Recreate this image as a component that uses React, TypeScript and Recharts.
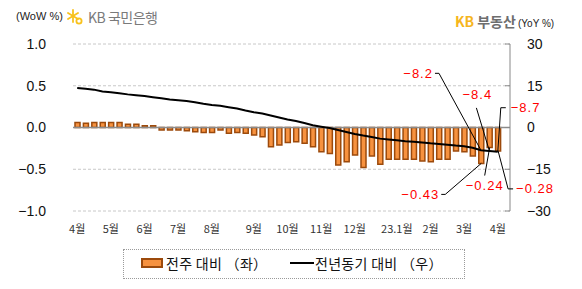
import React from 'react';
import {
  ComposedChart,
  Bar,
  Line,
  XAxis,
  YAxis,
  CartesianGrid,
  ReferenceLine,
  LabelList,
} from 'recharts';

// Weekly apartment sale price change, Apr 2022 – Apr 2023
const weekIds: number[] = Array.from({ length: 51 }, (_, i) => i);

// Week-over-week change (%), left axis
const wowChange: number[] = [
  0.06, 0.05, 0.06, 0.06, 0.06, 0.06, 0.04, 0.04, 0.02, 0.02,
  -0.03, -0.03, -0.03, -0.04, -0.05, -0.06, -0.06, -0.03, -0.07, -0.06,
  -0.07, -0.09, -0.11, -0.23, -0.21, -0.18, -0.17, -0.19, -0.23, -0.29,
  -0.31, -0.45, -0.41, -0.33, -0.48, -0.34, -0.44, -0.38, -0.38, -0.38,
  -0.38, -0.4, -0.41, -0.38, -0.38, -0.28, -0.29, -0.34, -0.43, -0.24,
  -0.28,
];

// Year-over-year change (%), right axis
const yoyChange: number[] = [
  14.2, 13.9, 13.6, 12.9, 12.7, 12.3, 11.9, 11.6, 11.3, 10.9,
  10.5, 10.1, 9.8, 9.5, 9.1, 8.5, 8.1, 7.8, 7.3, 6.8,
  6.1, 5.5, 5.0, 4.3, 3.6, 2.9, 2.3, 1.6, 0.8, 0.3,
  -0.2, -0.9, -1.6, -2.3, -2.9, -3.4, -4.0, -4.3, -4.6, -4.9,
  -5.1, -5.4, -5.7, -5.9, -6.2, -6.5, -6.7, -7.3, -8.2, -8.4,
  -8.7,
];

// Month labels and the week they sit under
const monthTickWeeks: number[] = [0, 4, 8, 12, 16, 21, 25, 29, 33, 38, 42, 46, 50];
const monthTickLabels: string[] = [
  '4월', '5월', '6월', '7월', '8월', '9월', '10월', '11월', '12월', '23.1월', '2월', '3월', '4월',
];

const leftTicks: number[] = [1, 0.5, 0, -0.5, -1];
const rightTicks: number[] = [30, 15, 0, -15, -30];

const data = weekIds.map((w, i) => ({
  week: w,
  wow: wowChange[i],
  yoy: yoyChange[i],
}));

const FONT = '"Liberation Sans", Arial, "Noto Sans CJK KR", sans-serif';
const KFONT = '"Noto Sans CJK KR", "Liberation Sans", sans-serif';
const RED = '#ff0000';

const minus = (s: string) => s.replace('-', '\u2212');

// Callout geometry for the latest three weeks (leader elbow, end, text anchor)
type Callout = { pts: [number, number][]; tx: number; ty: number; anchor: 'start' | 'middle' | 'end' };
const lineCallouts: Record<number, Callout> = {
  48: { pts: [[-42, -77], [-46, -77]], tx: -48, ty: -77, anchor: 'end' },
  49: { pts: [[-13, -43]], tx: -12, ty: -56, anchor: 'middle' },
  50: { pts: [[3, -44], [8, -44]], tx: 13, ty: -44, anchor: 'start' },
};
const barCallouts: Record<number, Callout> = {
  48: { pts: [[-36, 31], [-40, 31]], tx: -42, ty: 31, anchor: 'end' },
  49: { pts: [[-5, 28]], tx: -5, ty: 38, anchor: 'middle' },
  50: { pts: [[10, 38], [15, 38]], tx: 18, ty: 38, anchor: 'start' },
};

const renderCallout = (c: Callout, px: number, py: number, text: string) => {
  const pts = [[px, py], ...c.pts.map(([dx, dy]) => [px + dx, py + dy])];
  return (
    <g>
      <polyline
        points={pts.map((p) => p.join(',')).join(' ')}
        fill="none"
        stroke="#000"
        strokeWidth={1}
      />
      <text
        x={px + c.tx}
        y={py + c.ty}
        dy="0.35em"
        textAnchor={c.anchor}
        fill={RED}
        fontSize={13}
        letterSpacing={1}
        fontFamily={FONT}
      >
        {text}
      </text>
    </g>
  );
};

const LineLabel = (props: any) => {
  const { x, y, value, index } = props;
  const c = lineCallouts[index];
  if (!c) return null;
  return renderCallout(c, x, y, minus(Number(value).toFixed(1)));
};

const BarLabel = (props: any) => {
  const { x, y, width, height, value, index } = props;
  const c = barCallouts[index];
  if (!c) return null;
  const bottom = Math.max(y, y + height);
  return renderCallout(c, x + width / 2, bottom, minus(Number(value).toFixed(2)));
};

const LeftTick = (props: any) => {
  const { x, y, payload } = props;
  return (
    <text x={x} y={y} dy="0.35em" textAnchor="end" fontSize={14} fill="#111" fontFamily={FONT}>
      {minus(Number(payload.value).toFixed(1))}
    </text>
  );
};

const RIGHT_MARGIN = 17;
const RightTick = (props: any) => {
  const { x, y, payload } = props;
  const ax = x - RIGHT_MARGIN;
  return (
    <g>
      <line x1={ax - 5} x2={ax} y1={y} y2={y} stroke="#888" strokeWidth={1} />
      <text x={x} y={y} dy="0.35em" textAnchor="start" fontSize={14} fill="#111" fontFamily={FONT}>
        {minus(String(payload.value))}
      </text>
    </g>
  );
};

const MonthTick = (props: any) => {
  const { x, y, payload } = props;
  const k = monthTickWeeks.indexOf(payload.value);
  return (
    <text x={x} y={y} dy="0.71em" textAnchor="middle" fontSize={11} fill="#333" fontFamily={KFONT}>
      {k >= 0 ? monthTickLabels[k] : ''}
    </text>
  );
};

const KbStar = () => (
  <svg width={16} height={16} viewBox="0 0 16 16" style={{ position: 'absolute', left: 67, top: 9 }}>
    <g stroke="#f8c21d" strokeWidth={1.8} strokeLinecap="round" fill="none">
      <line x1={6} y1={1} x2={6} y2={13} />
      <line x1={1} y1={4} x2={11} y2={10} />
      <line x1={1} y1={10} x2={11} y2={4} />
      <circle cx={12} cy={12} r={2.6} />
    </g>
  </svg>
);

export default function App() {
  return (
    <div
      style={{
        position: 'absolute',
        left: 0,
        top: 0,
        width: 582,
        height: 289,
        background: '#fff',
        fontFamily: FONT,
      }}
    >
      <ComposedChart
        width={582}
        height={289}
        data={data}
        margin={{ top: 44, right: 0, bottom: 48, left: 0 }}
        barCategoryGap={0}
      >
        <CartesianGrid
          yAxisId="left"
          vertical={false}
          stroke="#c8c8c8"
          strokeDasharray="3 2"
        />
        <XAxis
          dataKey="week"
          type="category"
          ticks={monthTickWeeks}
          interval={0}
          axisLine={false}
          tickLine={false}
          tickSize={0}
          tickMargin={14}
          height={30}
          padding={{ left: 0, right: 8 }}
          tick={<MonthTick />}
        />
        <YAxis
          yAxisId="left"
          orientation="left"
          domain={[-1, 1]}
          ticks={leftTicks}
          width={73}
          axisLine={false}
          tickLine={false}
          tickSize={0}
          tickMargin={27}
          tick={<LeftTick />}
        />
        <YAxis
          yAxisId="right"
          orientation="right"
          domain={[-30, 30]}
          ticks={rightTicks}
          width={72}
          axisLine={{ stroke: '#888', strokeWidth: 1 }}
          tickLine={false}
          tickSize={0}
          tickMargin={RIGHT_MARGIN}
          tick={<RightTick />}
        />
        <ReferenceLine yAxisId="left" y={0} stroke="#8c8c8c" strokeWidth={1.5} />
        <Bar
          yAxisId="left"
          dataKey="wow"
          barSize={5}
          fill="#f7923f"
          stroke="#9c4a0c"
          strokeWidth={1.5}
          isAnimationActive={false}
        >
          <LabelList dataKey="wow" content={<BarLabel />} />
        </Bar>
        <Line
          yAxisId="right"
          dataKey="yoy"
          type="linear"
          stroke="#000"
          strokeWidth={2}
          dot={false}
          isAnimationActive={false}
        >
          <LabelList dataKey="yoy" content={<LineLabel />} />
        </Line>
      </ComposedChart>

      {/* header, left */}
      <div style={{ position: 'absolute', left: 16, top: 10, fontSize: 11, color: '#222', fontFamily: FONT }}>
        (WoW %)
      </div>
      <KbStar />
      <div
        style={{
          position: 'absolute',
          left: 88,
          top: 7,
          fontSize: 14,
          color: '#7a7a7a',
          fontFamily: KFONT,
          letterSpacing: -0.5,
        }}
      >
        KB 국민은행
      </div>

      {/* header, right */}
      <div style={{ position: 'absolute', left: 455, top: 11, fontSize: 14, fontWeight: 700, fontFamily: KFONT, whiteSpace: 'nowrap' }}>
        <span style={{ color: '#f6b51c' }}>KB</span>
        <span style={{ color: '#6e6e6e', marginLeft: 3 }}>부동산</span>
      </div>
      <div style={{ position: 'absolute', left: 518, top: 18, fontSize: 10, color: '#222', fontFamily: FONT }}>
        (YoY %)
      </div>

      {/* legend */}
      <div
        style={{
          position: 'absolute',
          left: 123,
          top: 249,
          width: 340,
          height: 28,
          border: '1px dotted #9a9a9a',
          fontFamily: KFONT,
          fontSize: 14,
          color: '#111',
        }}
      >
        <div
          style={{
            position: 'absolute',
            left: 17,
            top: 8,
            width: 18,
            height: 6,
            background: '#f7923f',
            border: '2px solid #9c4a0c',
          }}
        />
        <div style={{ position: 'absolute', left: 42, top: 4, lineHeight: '18px', whiteSpace: 'nowrap', letterSpacing: 0.3 }}>
          전주 대비 （좌）
        </div>
        <div style={{ position: 'absolute', left: 166, top: 12, width: 24, height: 2, background: '#000' }} />
        <div style={{ position: 'absolute', left: 191, top: 4, lineHeight: '18px', whiteSpace: 'nowrap', letterSpacing: 0.3 }}>
          전년동기 대비 （우）
        </div>
      </div>
    </div>
  );
}
